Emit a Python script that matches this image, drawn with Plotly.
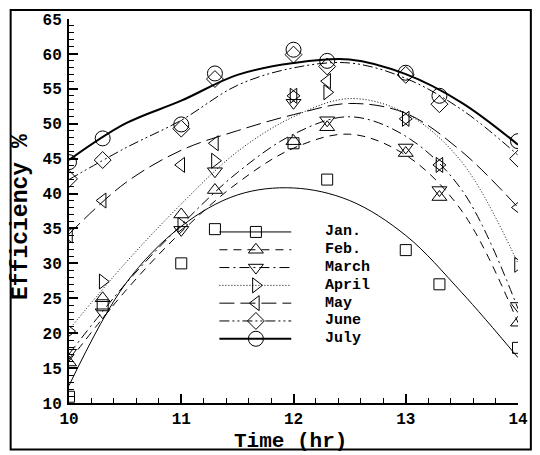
import plotly.graph_objects as go

# ---- data ----
t_points = [10, 10.3, 11, 11.3, 12, 12.3, 13, 13.3, 14]
t_curve = [10, 10.5, 11, 11.5, 12, 12.5, 13, 13.5, 14]

names = ["Jan.", "Feb.", "March", "April", "May", "June", "July"]

jan_pts = [10.9, 24.0, 30.0, 34.9, 47.2, 42.0, 31.9, 27.0, 17.9]
feb_pts = [15.8, 25.0, 37.0, 40.5, 47.5, 49.5, 45.8, 39.5, 21.5]
mar_pts = [17.2, 23.0, 34.8, 43.2, 53.0, 50.5, 46.6, 40.5, 23.9]
apr_pts = [20.3, 27.4, 35.5, 44.7, 54.0, 54.5, 50.7, 44.1, 29.8]
may_pts = [34.0, 39.0, 44.1, 47.2, 54.0, 56.1, 50.7, 44.1, 38.0]
jun_pts = [42.1, 44.8, 49.3, 56.4, 59.9, 58.2, 57.0, 52.8, 45.0]
jul_pts = [44.5, 47.9, 49.9, 57.2, 60.6, 59.0, 57.3, 54.0, 47.5]

jan_fit = [12.5, 27.0, 35.3, 39.8, 40.8, 39.0, 34.0, 25.8, 16.5]
feb_fit = [16.0, 26.0, 34.5, 41.5, 46.5, 48.5, 45.5, 37.5, 21.5]
mar_fit = [17.0, 27.0, 35.5, 43.0, 48.5, 51.0, 48.2, 40.5, 23.5]
apr_fit = [20.5, 30.0, 38.5, 46.0, 51.0, 53.6, 51.5, 44.5, 30.0]
may_fit = [34.2, 41.5, 46.2, 49.0, 51.3, 52.9, 51.5, 46.0, 38.0]
jun_fit = [42.0, 46.5, 50.5, 55.5, 58.0, 58.7, 56.5, 52.0, 45.5]
jul_fit = [44.8, 50.0, 53.3, 57.0, 58.7, 59.2, 57.1, 53.0, 47.0]

x_ticks = [10, 11, 12, 13, 14]
y_ticks = [10, 15, 20, 25, 30, 35, 40, 45, 50, 55, 60, 65]

# ---- styles ----
pts_all = [jan_pts, feb_pts, mar_pts, apr_pts, may_pts, jun_pts, jul_pts]
fit_all = [jan_fit, feb_fit, mar_fit, apr_fit, may_fit, jun_fit, jul_fit]
symbols = ["square-open", "triangle-up-open", "triangle-down-open",
           "triangle-right-open", "triangle-left-open", "diamond-open", "circle-open"]
msizes = [11, 13, 13, 13, 13, 13, 15]
dashes = ["solid", "8px,6px", "10px,4px,2px,4px", "1px,2px", "15px,6px",
          "10px,3px,2px,3px,2px,3px", "solid"]
lwidths = [1, 1, 1, 1, 1, 1, 2]

FONT = "Liberation Mono, Courier New, Courier, monospace"

fig = go.Figure()

for i, n in enumerate(names):
    fig.add_trace(go.Scatter(
        x=t_curve, y=fit_all[i], mode="lines", line_shape="spline",
        line=dict(color="black", width=lwidths[i], dash=dashes[i]),
        showlegend=False, hoverinfo="skip"))
    fig.add_trace(go.Scatter(
        x=t_points, y=pts_all[i], mode="markers",
        marker=dict(symbol=symbols[i], size=msizes[i], color="black",
                    line=dict(color="black", width=1)),
        name=n, showlegend=False))

# ---- custom legend inside the plot ----
lg_x0, lg_xm, lg_x1, lg_xt = 11.34, 11.665, 11.98, 12.26
lg_y0, lg_dy = 34.5, 2.55
for i, n in enumerate(names):
    yy = lg_y0 - i * lg_dy
    fig.add_trace(go.Scatter(
        x=[lg_x0, lg_x1], y=[yy, yy], mode="lines",
        line=dict(color="black", width=lwidths[i], dash=dashes[i]),
        showlegend=False, hoverinfo="skip"))
    fig.add_trace(go.Scatter(
        x=[lg_xm], y=[yy], mode="markers",
        marker=dict(symbol=symbols[i], size=msizes[i], color="black",
                    line=dict(color="black", width=1)),
        showlegend=False, hoverinfo="skip"))
    fig.add_annotation(x=lg_xt, y=yy, text=n, showarrow=False, xanchor="left",
                       yanchor="middle", xref="x", yref="y",
                       font=dict(family=FONT, size=15, color="black", weight="bold"))

W, H = 540, 455
ml, mr, mt, mb = 69, 17, 14, 52
pw, ph = W - ml - mr, H - mt - mb

def px_x(p):
    return (p - ml) / pw

def px_y(p):
    return (H - mb - p) / ph

fig.add_shape(type="rect", xref="paper", yref="paper",
              x0=px_x(10), x1=px_x(536), y0=px_y(450), y1=px_y(5),
              line=dict(color="black", width=2), layer="above")

fig.add_annotation(x=px_x(21), y=px_y(215), xref="paper", yref="paper",
                   xanchor="center", yanchor="middle",
                   text="Efficiency %", textangle=-90, showarrow=False,
                   font=dict(family=FONT, size=23, color="black", weight="bold"))
fig.add_annotation(x=px_x(293), y=px_y(442), xref="paper", yref="paper",
                   xanchor="center", yanchor="middle",
                   text="Time (hr)", showarrow=False,
                   font=dict(family=FONT, size=21, color="black", weight="bold"))

tickfont = dict(family=FONT, size=16, color="black", weight="bold")
fig.update_xaxes(range=[10, 14], tickvals=x_ticks, ticks="inside", ticklen=9,
                 tickwidth=2, tickcolor="black", showline=True, linecolor="black",
                 linewidth=2, showgrid=False, zeroline=False, tickfont=tickfont,
                 ticklabelstandoff=0,
                 minor=dict(dtick=0.2, ticks="inside", ticklen=5, tickcolor="black",
                            tickwidth=1, showgrid=False))
fig.update_yaxes(range=[10, 65], tickvals=y_ticks, ticks="inside", ticklen=9,
                 tickwidth=2, tickcolor="black", showline=True, linecolor="black",
                 linewidth=2, showgrid=False, zeroline=False, tickfont=tickfont,
                 ticklabelstandoff=2,
                 minor=dict(dtick=1, ticks="inside", ticklen=5, tickcolor="black",
                            tickwidth=1, showgrid=False))

fig.update_layout(width=W, height=H, margin=dict(l=ml, r=mr, t=mt, b=mb),
                  plot_bgcolor="white", paper_bgcolor="white", showlegend=False)

fig.write_html("out.html", config={"displayModeBar": False},
               post_script="document.body.style.margin='0';document.body.style.padding='0';")
